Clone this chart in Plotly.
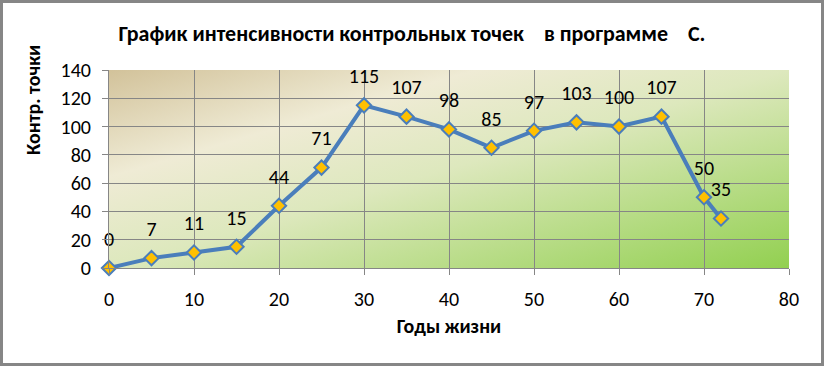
import plotly.graph_objects as go
import urllib.parse

years = [0, 5, 10, 15, 20, 25, 30, 35, 40, 45, 50, 55, 60, 65, 70, 72]
points = [0, 7, 11, 15, 44, 71, 115, 107, 98, 85, 97, 103, 100, 107, 50, 35]

title_text = "График интенсивности контрольных точек\u00a0\u00a0\u00a0 в программе\u00a0\u00a0\u00a0 С."
x_title = "Годы жизни"
y_title = "Контр. точки"

W, H = 824, 366
L, R, T, B = 109, 35, 70, 98
pw, ph = W - L - R, H - T - B

grad_svg = (
    "<svg xmlns='http://www.w3.org/2000/svg' width='680' height='198' viewBox='0 0 1 1' preserveAspectRatio='none'>"
    "<defs><linearGradient id='g' x1='0' y1='0' x2='1' y2='1'>"
    "<stop offset='0' stop-color='#d2c29a'/>"
    "<stop offset='0.27' stop-color='#efebd5'/>"
    "<stop offset='0.5' stop-color='#dde8bd'/>"
    "<stop offset='1' stop-color='#92d050'/>"
    "</linearGradient></defs><rect x='0' y='0' width='1' height='1' fill='url(#g)'/></svg>"
)
grad_uri = "data:image/svg+xml;charset=utf-8," + urllib.parse.quote(grad_svg)

grid = "#868686"
font_main = "Carlito, Calibri, Liberation Sans, sans-serif"
font_bold = "Carlito, Calibri, Liberation Sans, sans-serif"

fig = go.Figure()
fig.add_trace(go.Scatter(
    x=years, y=points, mode="lines+markers",
    line=dict(color="#4a7ebb", width=4),
    marker=dict(symbol="diamond", size=11, color="#ffc000",
                line=dict(color="#4a7ebb", width=2)),
    cliponaxis=False, hoverinfo="x+y", showlegend=False,
))
fig.add_trace(go.Scatter(
    x=years, y=points, mode="markers+text",
    text=[str(v) for v in points], textposition="top center",
    textfont=dict(family=font_main, size=20, color="#000000"),
    marker=dict(size=26, opacity=0),
    cliponaxis=False, hoverinfo="skip", showlegend=False,
))

fig.update_layout(
    width=W, height=H,
    margin=dict(l=L, r=R, t=T, b=B),
    paper_bgcolor="white", plot_bgcolor="rgba(0,0,0,0)",
    title=dict(text="<b>" + title_text + "</b>", x=412 / W, xanchor="center",
               y=1 - 33 / H, yanchor="middle",
               font=dict(family=font_bold, size=22, color="#000000")),
    images=[dict(source=grad_uri, xref="paper", yref="paper", x=0, y=1,
                 sizex=1, sizey=1, sizing="stretch", layer="below",
                 xanchor="left", yanchor="top")],
    xaxis=dict(range=[0, 80], dtick=10, tick0=0, showgrid=True, gridcolor=grid, gridwidth=1,
               showline=True, linecolor=grid, linewidth=1, ticks="outside", ticklen=6,
               tickcolor=grid, zeroline=False, ticklabelstandoff=7,
               tickfont=dict(family=font_main, size=20, color="#000000"),
               title=dict(text="<b>" + x_title + "</b>", standoff=8,
                          font=dict(family=font_bold, size=20, color="#000000"))),
    yaxis=dict(range=[0, 140], dtick=20, tick0=0, showgrid=True, gridcolor=grid, gridwidth=1,
               showline=True, linecolor=grid, linewidth=1, ticks="outside", ticklen=6,
               tickcolor=grid, zeroline=False, ticklabelstandoff=7,
               tickfont=dict(family=font_main, size=20, color="#000000")),
    annotations=[dict(text="<b>" + y_title + "</b>", textangle=-90,
                      xref="paper", yref="paper", x=(33 - L) / pw, y=(T + ph - 100) / ph,
                      xanchor="center", yanchor="middle", showarrow=False,
                      font=dict(family=font_bold, size=20, color="#000000"))],
    shapes=[dict(type="rect", xref="paper", yref="paper",
                 x0=(1.5 - L) / pw, x1=(W - 1.5 - L) / pw,
                 y0=(T + ph - (H - 1.5)) / ph, y1=(T + ph - 1.5) / ph,
                 line=dict(color="#868686", width=3), fillcolor="rgba(0,0,0,0)",
                 layer="above")],
)

fig.write_html("out.html", config={"displayModeBar": False},
               post_script="document.body.style.margin='0';document.body.style.overflow='hidden';")
